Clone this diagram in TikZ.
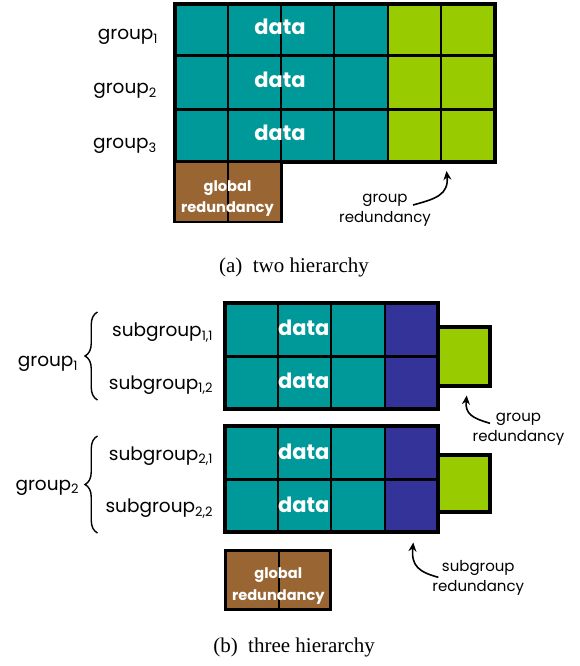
\documentclass[tikz,border=0pt]{standalone}
\usepackage{fontspec}
\setmainfont{Poppins}
\newfontfamily\capfont{Liberation Serif}
\usetikzlibrary{arrows.meta,decorations.pathreplacing}
\definecolor{cteal}{RGB}{0,153,153}
\definecolor{cgreen}{RGB}{153,204,0}
\definecolor{cbrown}{RGB}{153,102,51}
\definecolor{cpurple}{RGB}{51,51,153}
\tikzset{
  outerline/.style={line width=4pt},
  rowline/.style={line width=3.5pt},
  colline/.style={line width=2pt},
  boxline/.style={line width=2.6pt},
  datatxt/.style={text=white,font=\fontsize{21}{24}\selectfont\bfseries,inner sep=0pt},
  globtxt/.style={text=white,font=\fontsize{14.6}{21.5}\selectfont\bfseries,inner sep=0pt,align=center,anchor=base},
  lbl/.style={font=\fontsize{18.5}{22}\selectfont,inner sep=0pt,anchor=base east},
  note/.style={font=\fontsize{15}{20.5}\selectfont,inner sep=0pt,align=center,anchor=base},
  captxt/.style={font=\capfont\fontsize{21}{24}\selectfont,inner sep=0pt,anchor=base},
  arr/.style={line width=1.6pt,-{Stealth[length=9pt,width=8pt]}},
  brc/.style={line width=1.4pt,decorate,decoration={brace,amplitude=12.5pt}}
}
\begin{document}
\begin{tikzpicture}[x=1pt,y=-1pt]
\useasboundingbox (0,0) rectangle (579,666);
% ---------------- (a) two hierarchy ----------------
\fill[cteal] (174.7,3.8) rectangle (387.7,161.8);
\fill[cgreen] (387.7,3.8) rectangle (495,161.8);
\foreach \x in {227.5,281,334.3,387.7,441} \draw[colline] (\x,3.8) -- (\x,161.8);
\foreach \y in {55.6,109.4} \draw[rowline] (174.7,\y) -- (495,\y);
\draw[outerline] (174.7,3.8) rectangle (495,161.8);
\node[datatxt] (d1) at (280,26.7) {data};
\node[datatxt] (d2) at (280,80) {data};
\node[datatxt] (d3) at (280,133.3) {data};
\node[lbl] (g1) at (158.3,40) {group\textsubscript{1}};
\node[lbl] (g2) at (157,94) {group\textsubscript{2}};
\node[lbl] (g3) at (157,148.5) {group\textsubscript{3}};
% global redundancy
\fill[cbrown] (174.5,161.8) rectangle (281.5,222);
\draw[colline] (228,161.8) -- (228,222);
\draw[boxline] (174.5,161.8) rectangle (281.5,222);
\node[globtxt] (gla) at (227.5,212.7) {global\\redundancy};
% group redundancy
\node[note] (gra) at (385,222.7) {group\\redundancy};
\coordinate (gra-tail) at (413,205);
\coordinate (gra-tip) at (446.5,171);
\draw[arr] (gra-tail) .. controls (435,199) and (449,195) .. (gra-tip);
\node[captxt] (capa) at (294,272.7) {(a)\hspace{0.5em}two hierarchy};
% ---------------- (b) three hierarchy ----------------
% block 1
\fill[cteal] (225.3,302.8) rectangle (384.7,408.8);
\fill[cpurple] (384.7,302.8) rectangle (437.8,408.8);
\foreach \x in {278,331.3,384.7} \draw[colline] (\x,302.8) -- (\x,408.8);
\draw[rowline] (225.3,356.3) -- (437.8,356.3);
\draw[outerline] (225.3,302.8) rectangle (437.8,408.8);
\fill[cgreen] (437.8,327.2) rectangle (490.3,386.3);
\draw[outerline] (437.8,327.2) rectangle (490.3,386.3);
% block 2
\fill[cteal] (225.3,426.2) rectangle (384.7,532.2);
\fill[cpurple] (384.7,426.2) rectangle (437.8,532.2);
\foreach \x in {278,331.3,384.7} \draw[colline] (\x,426.2) -- (\x,532.2);
\draw[rowline] (225.3,479.7) -- (437.8,479.7);
\draw[outerline] (225.3,426.2) rectangle (437.8,532.2);
\fill[cgreen] (437.8,454.7) rectangle (490.3,512);
\draw[outerline] (437.8,454.7) rectangle (490.3,512);
\node[datatxt] (e1) at (303.8,327.8) {data};
\node[datatxt] (e2) at (303.8,380.8) {data};
\node[datatxt] (e3) at (303.8,451.7) {data};
\node[datatxt] (e4) at (303.8,505) {data};
% labels
\node[lbl] (s11) at (213.3,336.7) {subgroup\textsubscript{1,1}};
\node[lbl] (s12) at (213.3,389.3) {subgroup\textsubscript{1,2}};
\node[lbl] (s21) at (213.3,460) {subgroup\textsubscript{2,1}};
\node[lbl] (s22) at (213.3,512.7) {subgroup\textsubscript{2,2}};
\node[lbl] (h1) at (78.3,366.7) {group\textsubscript{1}};
\node[lbl] (h2) at (79.3,490) {group\textsubscript{2}};
\coordinate (b1s) at (97.5,400);
\coordinate (b1e) at (97.5,312);
\coordinate (b2s) at (97.5,533);
\coordinate (b2e) at (97.5,436);
\draw[brc] (b1s) -- (b1e);
\draw[brc] (b2s) -- (b2e);
% global redundancy
\fill[cbrown] (225.5,550.5) rectangle (330.7,609.7);
\draw[colline] (278.8,550.5) -- (278.8,609.7);
\draw[boxline] (225.5,550.5) rectangle (330.7,609.7);
\node[globtxt] (glb) at (278.3,600) {global\\redundancy};
% group redundancy
\node[note] (grb) at (518.5,441.7) {group\\redundancy};
\coordinate (grb-tail) at (490,423.3);
\coordinate (grb-tip) at (466.7,395.5);
\draw[arr] (grb-tail) .. controls (472,418) and (465,414) .. (grb-tip);
% subgroup redundancy
\node[note] (sgr) at (478.3,591.7) {subgroup\\redundancy};
\coordinate (sgr-tail) at (438.3,577.3);
\coordinate (sgr-tip) at (413.3,542.5);
\draw[arr] (sgr-tail) .. controls (419,572) and (411,566) .. (sgr-tip);
\node[captxt] (capb) at (294,652.7) {(b)\hspace{0.5em}three hierarchy};
\end{tikzpicture}
\end{document}
